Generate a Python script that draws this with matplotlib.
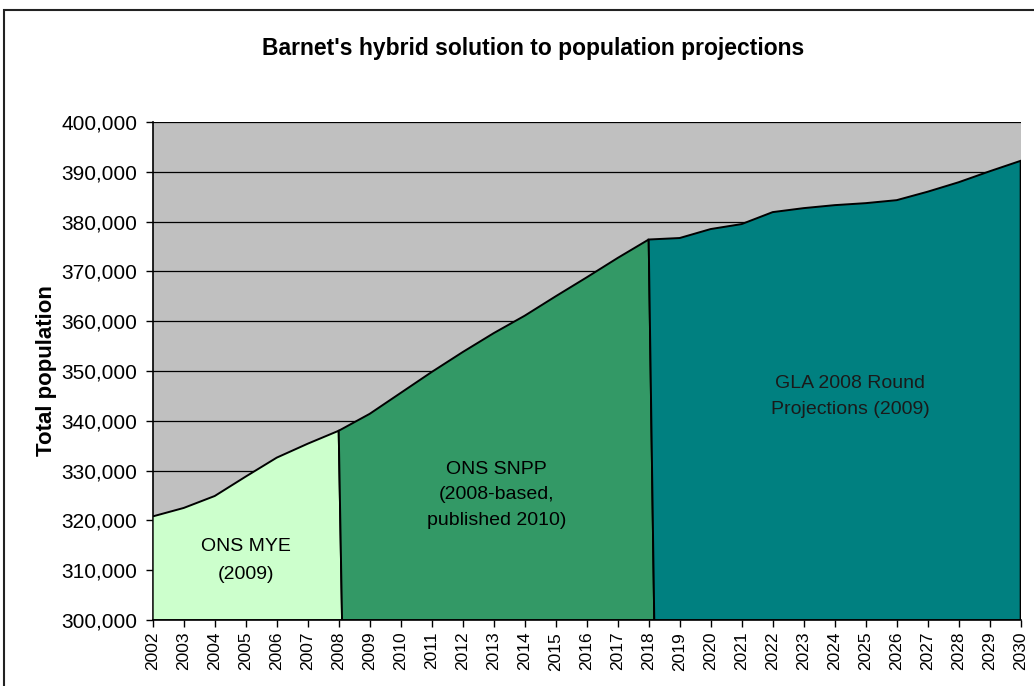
import matplotlib.pyplot as plt
from matplotlib.patches import Rectangle

plt.rcParams['font.family'] = ['Liberation Sans', 'DejaVu Sans']

# population by year, three sources
mye_years = [2002, 2003, 2004, 2005, 2006, 2007, 2008]
mye_pop = [320800, 322500, 324900, 328800, 332600, 335400, 338000]

snpp_years = [2008, 2009, 2010, 2011, 2012, 2013, 2014, 2015, 2016, 2017, 2018]
snpp_pop = [338000, 341400, 345600, 349800, 353800, 357600, 361100, 365000, 368800, 372700, 376400]

gla_years = [2018, 2019, 2020, 2021, 2022, 2023, 2024, 2025, 2026, 2027, 2028, 2029, 2030]
gla_pop = [376400, 376700, 378500, 379500, 381900, 382700, 383300, 383700, 384300, 386000, 387900, 390100, 392200]

all_years = list(range(2002, 2031))
yticks = list(range(300000, 400001, 10000))

fig = plt.figure(figsize=(10.34, 6.86), dpi=100)
ax = fig.add_axes([0.1477, 0.0962, 0.8394, 0.7260])
ax.set_facecolor('#C0C0C0')

# boundaries between areas lean slightly (as in the original)
lean = 0.18

def area(xs, ys, color, lean_left, lean_right):
    px = list(xs) + [xs[-1] + lean_right, xs[0] + lean_left]
    py = list(ys) + [300000, 300000]
    ax.fill(px, py, facecolor=color, edgecolor='black', linewidth=1.4, zorder=3)

area(mye_years, mye_pop, '#CCFFCC', 0, lean * 0.6)
area(snpp_years, snpp_pop, '#339966', lean * 0.6, lean)
area(gla_years, gla_pop, '#008080', lean, 0)

ax.set_xlim(2002, 2030)
ax.set_ylim(300000, 400000)
ax.set_yticks(yticks)
ax.set_yticklabels([f'{v:,}' for v in yticks], fontsize=15)
ax.set_xticks(all_years)
ax.set_xticklabels([str(y) for y in all_years], rotation=90, fontsize=12.5)
ax.tick_params(axis='both', direction='out', length=5, width=1, color='black')
ax.tick_params(axis='y', pad=6)
ax.grid(axis='y', color='black', linewidth=0.9, zorder=1)
ax.set_axisbelow(True)
for side in ['top', 'right']:
    ax.spines[side].set_visible(False)
ax.spines['left'].set_linewidth(1.2)
ax.spines['bottom'].set_linewidth(1.2)

ax.set_ylabel('Total population', fontsize=16, fontweight='bold', labelpad=3)

ax.text(2005.0, 311900, 'ONS MYE\n(2009)', ha='center', va='center', fontsize=14,
        linespacing=1.85, zorder=4)
ax.text(2013.1, 325100, 'ONS SNPP\n(2008-based,\npublished 2010)', ha='center', va='center',
        fontsize=14, linespacing=1.65, zorder=4)
ax.text(2024.5, 344800, 'GLA 2008 Round\nProjections (2009)', ha='center', va='center',
        fontsize=14, linespacing=1.7, color='#1a1a1a', zorder=4)

fig.text(0.5155, 0.929, "Barnet's hybrid solution to population projections",
         ha='center', va='center', fontsize=16.5, fontweight='bold')

# outer chart border
fig.patches.append(Rectangle((4 / 1034, -0.05), 1.1, (676 / 686) + 0.05,
                             transform=fig.transFigure, fill=False,
                             edgecolor='#222222', linewidth=1.5))

fig.savefig('out.png', dpi=100)
